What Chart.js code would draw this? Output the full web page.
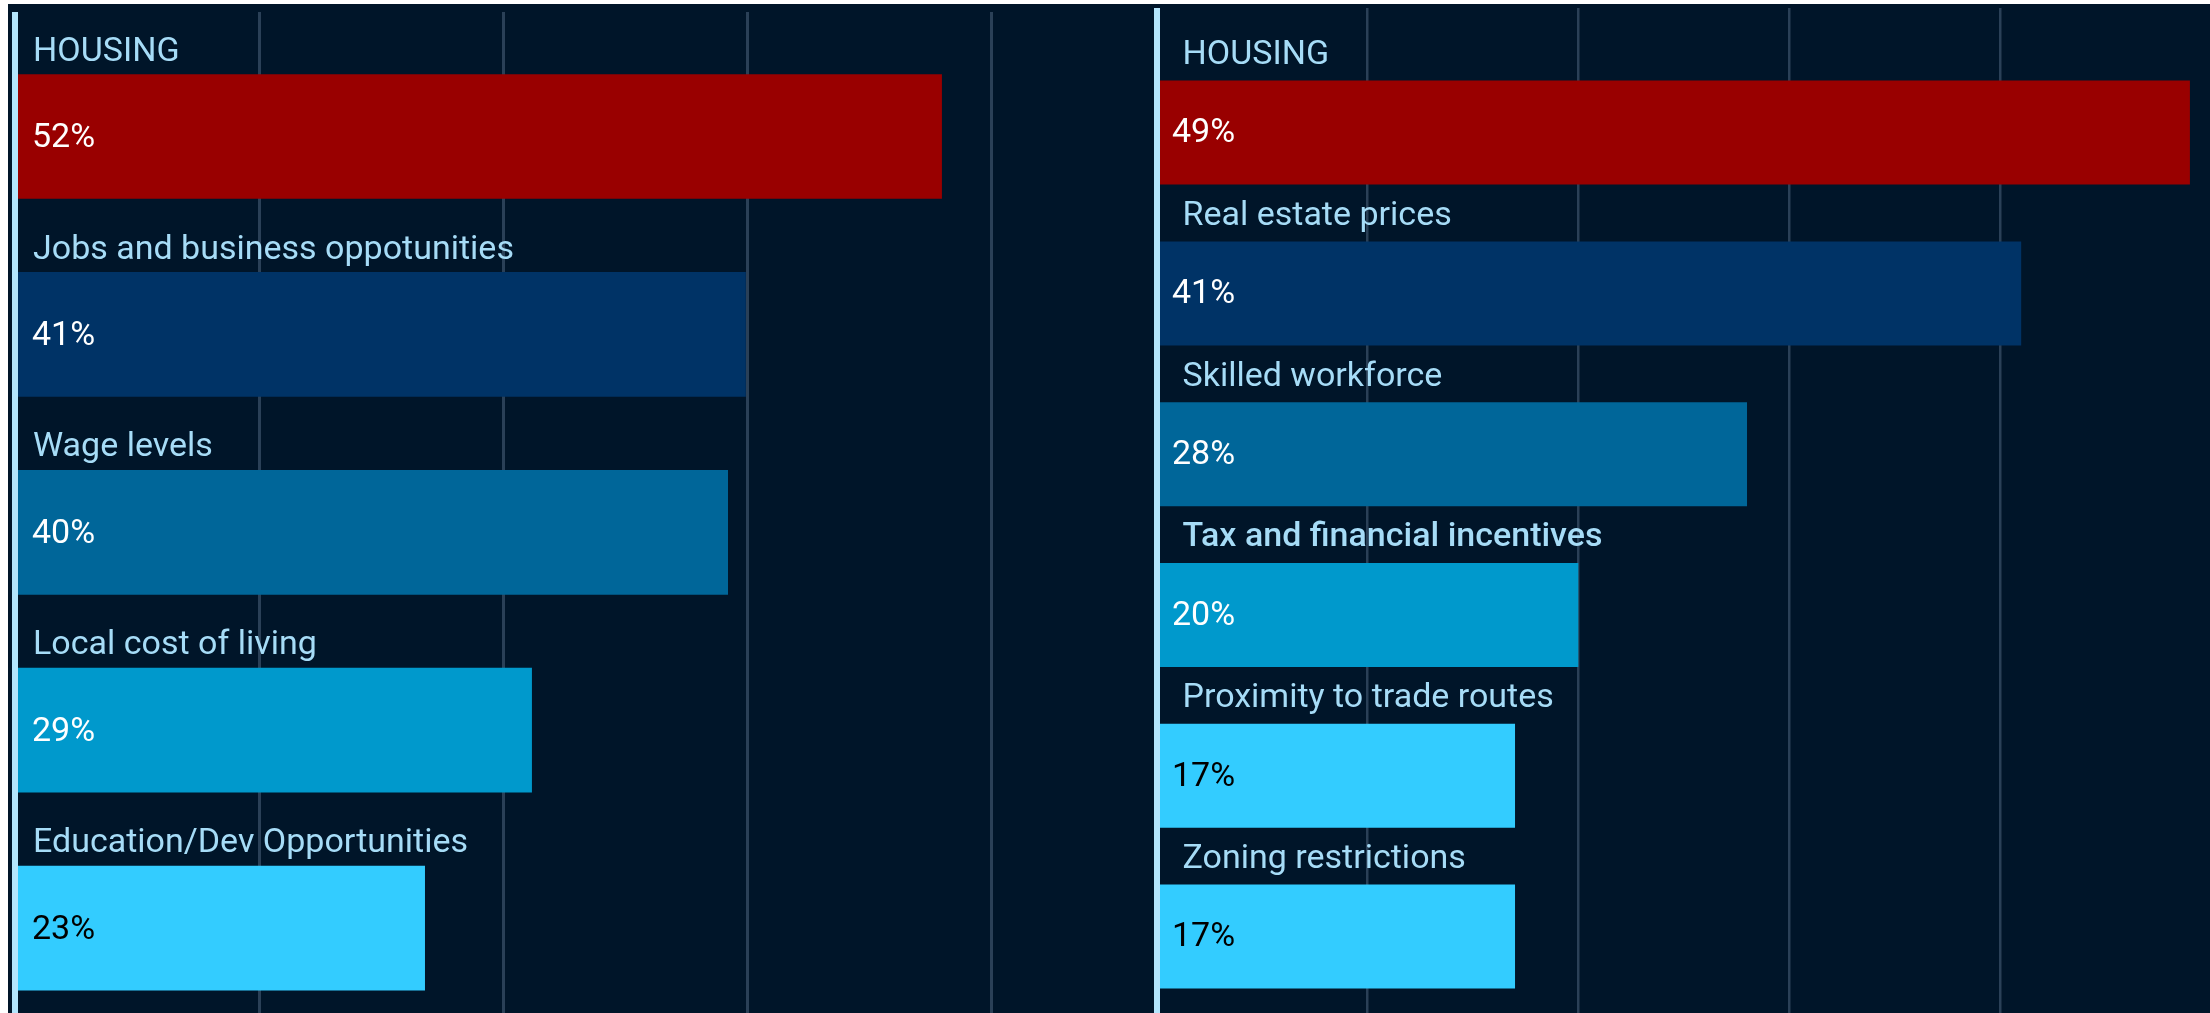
<!DOCTYPE html>
<html lang="en">
<head>
  <meta charset="UTF-8" />
  <title>Factors – horizontal bars</title>
  <script src="https://cdn.jsdelivr.net/npm/chart.js"></script>
  <style>
    html, body { margin: 0; padding: 0; background: #fff; overflow: hidden; }
    .board { position: absolute; left: 8px; top: 4px; width: 2202px; height: 1009px; background: #001529; }
    canvas { position: absolute; top: 4px; }
    #leftChart  { left: 8px; }
    #rightChart { left: 1150px; }
  </style>
</head>
<body>
  <div class="board"></div>
  <canvas id="leftChart" width="1142" height="1023"></canvas>
  <canvas id="rightChart" width="1063" height="1013"></canvas>

  <script>
    // --- data, left panel ---
    const leftLabels = ['HOUSING', 'Jobs and business oppotunities', 'Wage levels', 'Local cost of living', 'Education/Dev Opportunities'];
    const leftValues = [52, 41, 40, 29, 23];
    const leftTicks  = [0, 13.7, 27.4, 41.1, 54.8];

    // --- data, right panel ---
    const rightLabels = ['HOUSING', 'Real estate prices', 'Skilled workforce', 'Tax and financial incentives', 'Proximity to trade routes', 'Zoning restrictions'];
    const rightValues = [49, 41, 28, 20, 17, 17];
    const rightTicks  = [0, 10, 20, 30, 40, 50];

    // colours per rank
    const barColors  = ['#990000', '#003366', '#006699', '#0099cc', '#33ccff', '#33ccff'];
    const valueInk   = ['#ffffff', '#ffffff', '#ffffff', '#ffffff', '#000000', '#000000'];
    const labelColor = '#a6dcf7';
    const axisColor  = '#b3e5fc';
    const gridColor  = '#2a4057';

    Chart.defaults.font.family = 'Roboto, "Noto Sans", sans-serif';

    // category text above each bar, value text inside the bar
    const barText = {
      id: 'barText',
      afterDatasetsDraw(chart, args, opts) {
        const ctx = chart.ctx;
        const left = chart.chartArea.left;
        const labels = chart.data.labels;
        const values = chart.data.datasets[0].data;
        chart.getDatasetMeta(0).data.forEach((bar, i) => {
          const top = bar.y - bar.height / 2;
          ctx.save();
          ctx.textAlign = 'left';
          ctx.textBaseline = 'alphabetic';
          ctx.font = ((opts.strong || []).includes(i) ? '500 ' : '400 ') + '34px Roboto';
          ctx.fillStyle = labelColor;
          ctx.fillText(labels[i], left + opts.labelX, top - opts.labelGap);
          ctx.font = '400 34px Roboto';
          ctx.fillStyle = valueInk[i];
          ctx.fillText(values[i] + '%', left + opts.valueX, bar.y + opts.valueDy);
          ctx.restore();
        });
      }
    };

    function makeChart(id, labels, values, ticks, max, o) {
      return new Chart(document.getElementById(id), {
        type: 'bar',
        data: {
          labels: labels,
          datasets: [{
            data: values,
            backgroundColor: barColors.slice(0, values.length),
            borderWidth: 0,
            categoryPercentage: 1,
            barPercentage: o.barPct
          }]
        },
        options: {
          indexAxis: 'y',
          responsive: false,
          animation: false,
          layout: { padding: o.padding },
          plugins: {
            legend: { display: false },
            tooltip: { enabled: false },
            barText: o.text
          },
          scales: {
            x: {
              position: 'top',
              min: 0,
              max: max,
              afterBuildTicks: s => { s.ticks = ticks.map(v => ({ value: v })); },
              ticks: { display: false },
              border: { display: false },
              grid: {
                color: c => (c.tick && c.tick.value === 0) ? axisColor : gridColor,
                lineWidth: c => (c.tick && c.tick.value === 0) ? 6 : o.gridWidth,
                drawTicks: true,
                tickLength: o.tickLen
              }
            },
            y: {
              ticks: { display: false },
              grid: { display: false, drawTicks: false },
              border: { display: true, color: axisColor, width: 6, z: 1 }
            }
          }
        },
        plugins: [barText]
      });
    }

    makeChart('leftChart', leftLabels, leftValues, leftTicks, 63, {
      barPct: 0.63,
      padding: { left: 7, right: 12, top: 8, bottom: 0 },
      tickLen: 25.6,
      gridWidth: 3,
      text: { labelX: 18, valueX: 17, labelGap: 13.5, valueDy: 10.5 }
    });

    makeChart('rightChart', rightLabels, rightValues, rightTicks, 50, {
      barPct: 0.647,
      padding: { left: 6.5, right: 2, top: 4, bottom: 0 },
      tickLen: 44.2,
      gridWidth: 2.5,
      text: { labelX: 26, valueX: 15.5, labelGap: 16.5, valueDy: 9.7, strong: [3] }
    });
  </script>
</body>
</html>
